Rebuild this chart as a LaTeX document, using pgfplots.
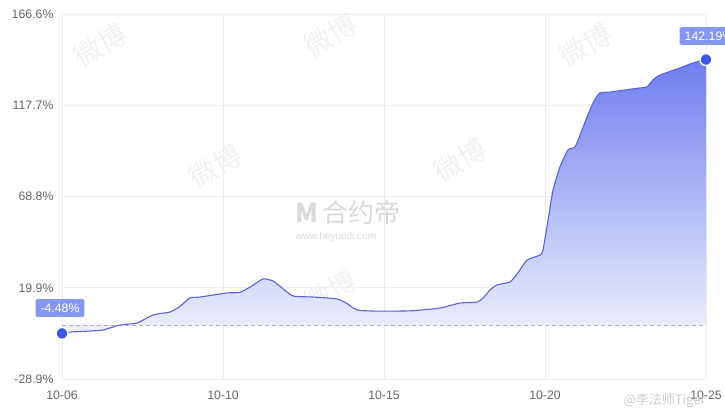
\documentclass[border=0pt]{standalone}
\usepackage{pgfplots}
\pgfplotsset{compat=1.18}
\usepackage{fontspec}
\setmainfont{Liberation Sans}
\newfontfamily\cjk{Noto Sans CJK SC}
\definecolor{linec}{HTML}{5A63D6}
\definecolor{dotc}{HTML}{3D58E6}
\definecolor{labc}{HTML}{8796EE}
\definecolor{topc}{HTML}{6F7EEF}
\definecolor{botc}{HTML}{EEF0FD}
\definecolor{gridc}{HTML}{EDEDED}
\definecolor{tickc}{HTML}{666666}
\definecolor{wm}{HTML}{F1F1F1}
\begin{document}
\begin{tikzpicture}
\begin{axis}[
  scale only axis, width=644pt, height=365pt,
  xmin=62, xmax=706, ymin=-28.9, ymax=166.6,
  axis line style={draw=none},
  major tick length=0pt,
  grid=major, grid style={gridc, line width=0.8pt},
  xtick={62,223,384,545,706},
  xticklabels={10-06,10-10,10-15,10-20,10-25},
  ytick={-28.9,19.9,68.8,117.7,166.6},
  yticklabels={-28.9\%,19.9\%,68.8\%,117.7\%,166.6\%},
  tick label style={font=\fontsize{12.3}{14}\selectfont, text=tickc},
  xticklabel style={yshift=-8pt},
  yticklabel style={xshift=-5pt},
  /pgf/number format/assume math mode=true,
  clip=false,
]
% watermarks
\node[text=wm, font=\cjk\fontsize{28}{30}\selectfont, rotate=30] at (axis cs:100,150) {微博};
\node[text=wm, font=\cjk\fontsize{28}{30}\selectfont, rotate=30] at (axis cs:215,85) {微博};
\node[text=wm, font=\cjk\fontsize{28}{30}\selectfont, rotate=30] at (axis cs:330,18) {微博};
\node[text=wm, font=\cjk\fontsize{28}{30}\selectfont, rotate=30] at (axis cs:460,88) {微博};
\node[text=wm, font=\cjk\fontsize{28}{30}\selectfont, rotate=30] at (axis cs:585,150) {微博};
\node[text=wm, font=\cjk\fontsize{28}{30}\selectfont, rotate=30] at (axis cs:595,20) {微博};
\node[text=wm, font=\cjk\fontsize{28}{30}\selectfont, rotate=30] at (axis cs:330,155) {微博};
\node[text=wm!90!black, font=\cjk\fontsize{26}{28}\selectfont, anchor=west] at (axis cs:292,60) {\textbf{M}\,合约帝};
\node[text=wm!90!black, font=\fontsize{10}{12}\selectfont, anchor=west] at (axis cs:292,47) {www.heyuedi.com};
% area
\addplot[draw=none, top color=topc, bottom color=botc, smooth, tension=0.35] coordinates {
(62,-4.48) (72,-3.7) (90,-3.2) (103,-2.65) (120,0.0) (137,1.1) (153,5.4) (170,7.0) (180,10) (190,14.5) (200,15.0) (227,17.2) (240,17.5) (252,21) (263,24.7) (273,23.6) (283,19.5) (293,15.6) (313,15.0) (337,14.0) (347,11.5) (357,8.1) (373,7.5) (400,7.5) (413,7.7) (440,9.1) (460,11.8) (477,12.3) (484,15) (490,18.8) (497,21.5) (510,23.1) (518,28) (527,34.8) (540,37.5) (543,40.2) (548,56) (553,72.3) (560,84.7) (568,93.8) (575,95.4) (581,103) (587,111.4) (594,120) (600,124.3) (610,124.8) (640,127.0) (647,127.5) (653,131.3) (660,133.9) (680,137.7) (693,140.4) (706,142.19)
} \closedcycle;
% zero line
\addplot[draw=gray!60, line width=0.7pt, dash pattern=on 4pt off 3pt] coordinates {(62,0) (706,0)};
% line
\addplot[linec, line width=1.1pt, smooth, tension=0.35] coordinates {
(62,-4.48) (72,-3.7) (90,-3.2) (103,-2.65) (120,0.0) (137,1.1) (153,5.4) (170,7.0) (180,10) (190,14.5) (200,15.0) (227,17.2) (240,17.5) (252,21) (263,24.7) (273,23.6) (283,19.5) (293,15.6) (313,15.0) (337,14.0) (347,11.5) (357,8.1) (373,7.5) (400,7.5) (413,7.7) (440,9.1) (460,11.8) (477,12.3) (484,15) (490,18.8) (497,21.5) (510,23.1) (518,28) (527,34.8) (540,37.5) (543,40.2) (548,56) (553,72.3) (560,84.7) (568,93.8) (575,95.4) (581,103) (587,111.4) (594,120) (600,124.3) (610,124.8) (640,127.0) (647,127.5) (653,131.3) (660,133.9) (680,137.7) (693,140.4) (706,142.19)
};
% end dots
\addplot[only marks, mark=*, mark size=6pt, mark options={fill=dotc, draw=white, line width=1.5pt}] coordinates {(62,-4.48) (706,142.19)};
% labels
\node[fill=labc, text=white, rounded corners=2pt, inner xsep=5pt, inner ysep=4.5pt, font=\fontsize{12.3}{13}\selectfont] at (axis cs:60,9.1) {-4.48\%};
\node[fill=labc, text=white, rounded corners=2pt, inner xsep=5pt, inner ysep=4.5pt, font=\fontsize{12.3}{13}\selectfont] at (axis cs:709,154.8) {142.19\%};
\node[text=gray!40, font=\cjk\fontsize{13}{15}\selectfont, anchor=west] at (axis cs:620,-40.5) {@李法师Tiger};
\end{axis}
\pgfresetboundingbox
\useasboundingbox (-62pt,-29pt) rectangle (663pt,379pt);
\end{tikzpicture}
\end{document}
